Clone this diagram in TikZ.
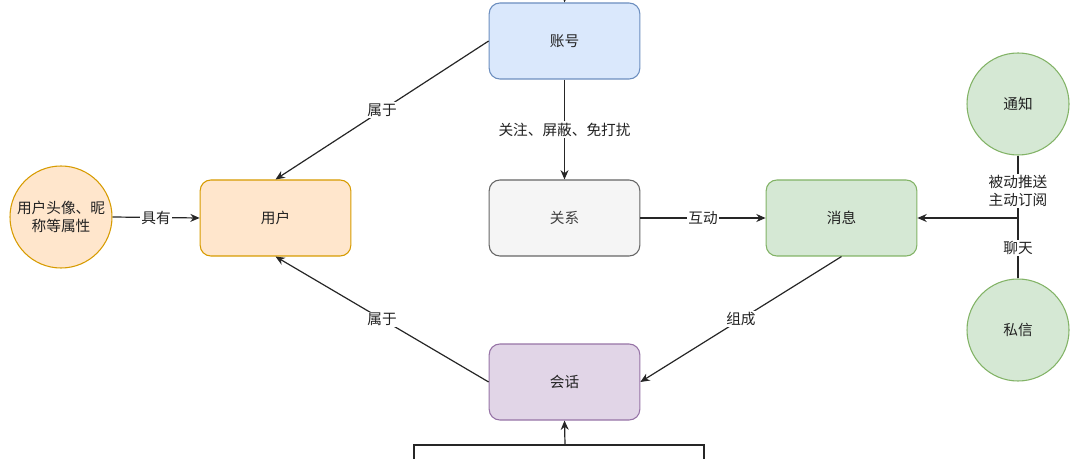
\documentclass[tikz,border=0pt]{standalone}
\usepackage{fontspec}
\setmainfont{Noto Sans CJK SC}
\usetikzlibrary{arrows.meta,shapes.geometric}
\definecolor{bluef}{HTML}{DAE8FC}\definecolor{bluel}{HTML}{6C8EBF}
\definecolor{orf}{HTML}{FFE6CC}\definecolor{orl}{HTML}{D79B00}
\definecolor{grf}{HTML}{F5F5F5}\definecolor{grl}{HTML}{666666}
\definecolor{gnf}{HTML}{D5E8D4}\definecolor{gnl}{HTML}{82B366}
\definecolor{puf}{HTML}{E1D5E7}\definecolor{pul}{HTML}{9673A6}
\definecolor{txt}{HTML}{222222}
\tikzset{
  box/.style={draw, rounded corners=8pt, minimum width=113pt, minimum height=57pt, line width=0.8pt, text=txt, inner sep=0pt},
  circ/.style={draw, circle, minimum size=76.5pt, line width=0.8pt, text=txt, inner sep=0pt, align=center},
  conn/.style={line width=0.9pt, draw=black!85},
  arr/.style={conn, -{Stealth[length=7pt,width=6pt]}},
  lab/.style={fill=white, text=txt, inner sep=1pt, align=center}
}
\begin{document}
\begin{tikzpicture}[x=0.75pt,y=-0.75pt,font=\fontsize{11}{13.5}\selectfont]
\path[use as bounding box] (0,0) rectangle (1080,459);
\clip (0,0) rectangle (1080,459);
\node[box, fill=bluef, draw=bluel] (zh) at (564.5,41) {账号};
\node[box, fill=orf, draw=orl] (yh) at (275.5,218) {用户};
\node[box, fill=grf, draw=grl, text=black!75] (gx) at (564.5,218) {关系};
\node[box, fill=gnf, draw=gnl] (xx) at (841.5,218) {消息};
\node[box, fill=puf, draw=pul] (hh) at (564.5,382) {会话};
\node[circ, fill=orf, draw=orl] (sx) at (61,217) {用户头像、昵\\称等属性};
\node[circ, fill=gnf, draw=gnl] (tz) at (1018,104) {通知};
\node[circ, fill=gnf, draw=gnl] (sl) at (1018,330) {私信};
\coordinate (jn) at (1018,218);
\coordinate (top) at (565,-8);
\coordinate (bm) at (565,445);
\coordinate (bl) at (414,445);
\coordinate (br) at (704,445);
\coordinate (bld) at (414,470);
\coordinate (brd) at (704,470);

\draw[arr] (top) -- (zh.north);
\draw[arr] (zh.west) -- node[lab, pos=0.5] {属于} (yh.north);
\draw[arr] (hh.west) -- node[lab, pos=0.5] {属于} (yh.south);
\draw[arr] (zh.south) -- node[lab, pos=0.5] {关注、屏蔽、免打扰} (gx.north);
\draw[arr] (gx.east) -- node[lab, pos=0.5] {互动} (xx.west);
\draw[arr] (xx.south) -- node[lab, pos=0.5] {组成} (hh.east);
\draw[arr] (sx.east) -- node[lab, pos=0.5] {具有} (yh.west);
\draw[conn] (tz.south) -- node[lab, pos=0.57] {被动推送\\主动订阅} (jn);
\draw[conn] (sl.north) -- node[lab, pos=0.5] {聊天} (jn);
\draw[arr] (jn) -- (xx.east);
\draw[arr] (bm) -- (hh.south);
\draw[conn] (bld) -- (bl) -- (br) -- (brd);
\end{tikzpicture}
\end{document}
